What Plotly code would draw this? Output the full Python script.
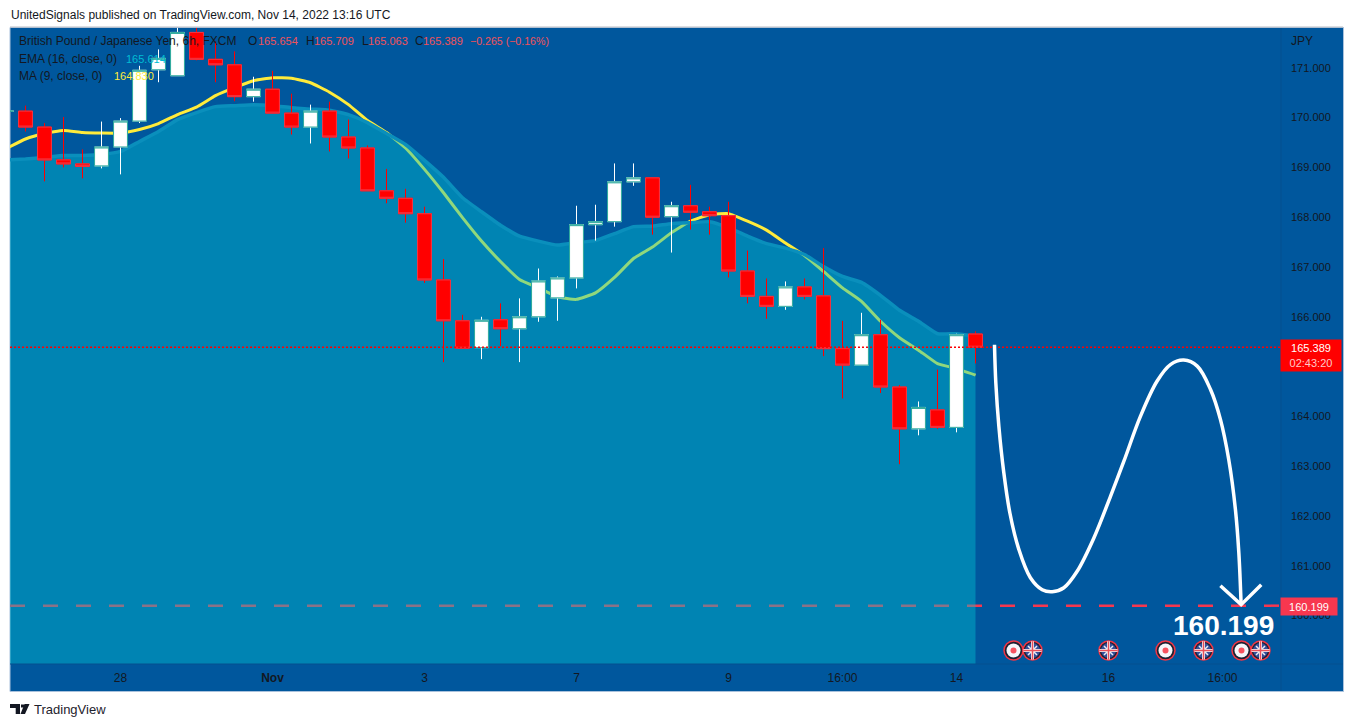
import plotly.graph_objects as go

W, H = 1354, 727

# ---------- data (6h GBP/JPY candles) ----------
candle_idx = list(range(-1, 51))
opens = [170.13,170.13,169.81,169.15,169.07,169.03,169.41,169.93,170.96,170.84,171.71,171.17,171.06,170.42,170.57,170.09,169.81,170.13,169.61,169.39,168.53,168.38,168.07,166.74,165.92,165.38,165.94,165.76,166.00,166.38,166.78,167.85,167.91,168.71,168.79,168.01,168.23,168.11,168.03,166.92,166.41,166.21,166.60,166.42,165.36,165.03,165.64,164.59,163.75,164.13,163.78,165.654]
highs = [170.13,170.24,169.89,170.01,169.36,169.92,169.99,171.04,171.37,172.00,172.00,171.53,171.33,170.82,170.94,170.48,170.26,170.32,169.96,169.44,168.97,168.57,168.21,167.16,166.04,166.00,166.27,166.37,166.97,166.81,168.23,168.25,169.08,169.08,168.79,168.31,168.65,168.21,168.31,167.33,166.77,166.71,166.77,167.38,165.92,166.08,165.94,164.63,164.30,164.94,165.66,165.709]
lows = [170.13,169.72,168.72,169.00,168.78,168.98,168.86,169.89,170.71,170.84,171.15,170.71,170.33,170.32,170.09,169.66,169.48,169.32,169.18,168.53,168.28,167.89,166.68,165.09,165.37,165.15,165.41,165.09,165.90,165.92,166.57,167.53,167.81,168.63,167.65,167.29,167.75,167.65,166.79,166.27,165.96,166.14,166.35,165.21,164.36,165.03,164.47,163.04,163.62,163.75,163.68,165.063]
closes = [170.13,169.81,169.15,169.07,169.02,169.41,169.93,170.95,171.19,171.71,171.17,171.06,170.42,170.57,170.09,169.81,170.13,169.61,169.39,168.53,168.38,168.07,166.74,165.92,165.37,165.93,165.76,166.00,166.72,166.78,167.85,167.91,168.71,168.79,168.00,168.23,168.10,168.03,166.92,166.41,166.21,166.60,166.41,165.36,165.03,165.64,164.59,163.75,164.18,163.78,165.64,165.389]

line_idx = list(range(-1, 51))
ema16 = [169.15,169.17,169.20,169.24,169.24,169.26,169.32,169.52,169.72,169.96,170.10,170.22,170.24,170.26,170.24,170.20,170.17,170.15,170.06,169.90,169.68,169.46,169.14,168.80,168.39,168.11,167.84,167.62,167.52,167.44,167.49,167.53,167.67,167.81,167.82,167.87,167.89,167.91,167.79,167.62,167.47,167.38,167.25,167.01,166.81,166.69,166.43,166.13,165.91,165.66,165.66,165.61]
ma9 = [169.38,169.57,169.68,169.74,169.70,169.69,169.69,169.76,169.88,170.06,170.21,170.44,170.60,170.74,170.80,170.79,170.70,170.51,170.26,169.94,169.70,169.39,168.96,168.49,167.99,167.52,167.11,166.75,166.58,166.40,166.35,166.48,166.79,167.17,167.40,167.69,167.92,168.05,168.07,167.92,167.74,167.48,167.23,166.91,166.58,166.31,165.91,165.58,165.33,165.06,164.96,164.83]

last_price = 165.389
target_price = 160.199

curve_idx = [51.0,51.07,51.23,51.49,51.81,52.28,52.89,53.51,54.04,54.65,55.35,56.23,57.11,57.81,58.68,59.56,60.26,60.96,61.67,62.37,62.89,63.33,63.68,63.86,63.98]
curve_price = [165.44,164.67,163.80,162.87,162.06,161.33,160.76,160.52,160.48,160.56,160.89,161.56,162.40,163.10,164.00,164.71,165.04,165.13,165.01,164.54,163.94,163.13,162.13,161.26,160.22]
arrow_idx = [62.89,63.98,65.04]
arrow_price = [160.60,160.22,160.62]

jp_events = [52, 60, 64]
uk_events = [53, 57, 62, 65]
event_price = 159.3

x_tickvals = [5, 13, 21, 29, 37, 43, 49, 57, 63]
x_ticktext = ["28", "<b>Nov</b>", "3", "7", "9", "16:00", "14", "16", "16:00"]
y_tickvals = [160,161,162,163,164,166,167,168,169,170,171]
y_ticktext = ["160.000","161.000","162.000","163.000","164.000","166.000","167.000","168.000","169.000","170.000","171.000"]

# ---------- style ----------
BG = "#00579d"
AREA = "rgba(0,190,210,0.435)"
DARK = "#131722"
RED = "#ff0000"
BORDER_RED = "#f23645"
TEAL = "#26a69a"
FONT = "Liberation Sans"
X_RANGE = [-0.8158, 66.079]
Y_RANGE = [159.028, 171.799]

def px(v): return v / W
def py(v): return 1 - v / H

fig = go.Figure()

# Main layer: sits beneath the candles
fig.add_trace(go.Scatter(x=[X_RANGE[0], X_RANGE[1]], y=[target_price]*2, mode="lines",
                         line=dict(color="#f7374f", width=2.5, dash="15px,18px")))
fig.add_trace(go.Scatter(x=line_idx, y=ma9, mode="lines",
                         line=dict(color="#ffeb3b", width=3, shape="spline", smoothing=0.4)))
fig.add_trace(go.Scatter(x=line_idx, y=ema16, mode="lines", fill="tozeroy", fillcolor=AREA,
                         line=dict(color="#0a8fbc", width=3.5, shape="spline", smoothing=0.4)))

# Overlay layer: candles and drawings
fig.add_trace(go.Candlestick(x=candle_idx, open=opens, high=highs, low=lows, close=closes,
                             xaxis="x2", yaxis="y2", whiskerwidth=0,
                             increasing=dict(line=dict(color="#ffffff", width=1), fillcolor="#ffffff"),
                             decreasing=dict(line=dict(color=RED, width=1), fillcolor=RED)))
body_high = [max(o, c) for o, c in zip(opens, closes)]
body_low = [min(o, c) for o, c in zip(opens, closes)]
fig.add_trace(go.Candlestick(x=candle_idx, open=opens, high=body_high, low=body_low, close=closes,
                             xaxis="x2", yaxis="y2", whiskerwidth=0,
                             increasing=dict(line=dict(color=TEAL, width=1), fillcolor="#ffffff"),
                             decreasing=dict(line=dict(color=BORDER_RED, width=1), fillcolor=RED)))

fig.add_trace(go.Scatter(x=X_RANGE, y=[last_price]*2, mode="lines", xaxis="x2", yaxis="y2",
                         line=dict(color=RED, width=1.5, dash="2px,2px")))
fig.add_trace(go.Scatter(x=curve_idx, y=curve_price, mode="lines", xaxis="x2", yaxis="y2",
                         line=dict(color="#ffffff", width=3.5, shape="spline", smoothing=1.0)))
fig.add_trace(go.Scatter(x=arrow_idx, y=arrow_price, mode="lines", xaxis="x2", yaxis="y2",
                         line=dict(color="#ffffff", width=3.5)))

def event_marks(xs, symbol, size, color, line_color=None, line_width=0):
    fig.add_trace(go.Scatter(x=xs, y=[event_price]*len(xs), mode="markers", xaxis="x2", yaxis="y2",
                             marker=dict(symbol=symbol, size=size, color=color,
                                         line=dict(color=line_color or color, width=line_width))))

event_marks(jp_events, "circle", 19, "#1c2030", BORDER_RED, 1.5)
event_marks(jp_events, "circle", 14, "#f5f6fa")
event_marks(jp_events, "circle", 6, "#f7525f")
event_marks(uk_events, "circle", 19, "#1c2030", BORDER_RED, 1.5)
event_marks(uk_events, "circle", 15, "#34509c")
event_marks(uk_events, "x-thin", 9, "#e9eaf2", "#e9eaf2", 1.5)
event_marks(uk_events, "cross-thin", 13, "#f2f2f5", "#f2f2f5", 3)
event_marks(uk_events, "cross-thin", 13, "#e8505b", "#e8505b", 1.5)

# ---------- texts ----------
ann = []
def text(x, y, t, size=12, color=DARK, anchor="left", **kw):
    ann.append(dict(x=px(x), y=py(y), xref="paper", yref="paper", text=t, showarrow=False,
                    xanchor=anchor, yanchor="middle", align="left",
                    font=dict(family=FONT, size=size, color=color), borderpad=0, **kw))

LR = "#f0525a"

text(10, 15, "UnitedSignals published on TradingView.com, Nov 14, 2022 13:16 UTC", size=12, color="#131722")
text(18, 41, "British Pound / Japanese Yen, 6h, FXCM", size=12)
for letter, lx, value, vx in [("O", 247, "165.654", 257), ("H", 305, "165.709", 313),
                              ("L", 361, "165.063", 367), ("C", 414, "165.389", 422)]:
    text(lx, 41, letter, size=12)
    text(vx, 41, value, size=11, color=LR)
text(469, 41, "−0.265 (−0.16%)", size=10.6, color=LR)
text(18, 59, "EMA (16, close, 0)", size=12)
text(125, 59, "165.614", size=11, color="#00bcd4")
text(18, 76, "MA (9, close, 0)", size=12)
text(113, 76, "164.830", size=11, color="#ffeb3b")
text(1290, 41, "JPY", size=12)
text(32.5, 709, "TradingView", size=13, color="#1e222d")
text(1223, 625, "<b>160.199</b>", size=28, color="#ffffff", anchor="center")

ann.append(dict(x=px(1280), y=py(606.5), xref="paper", yref="paper", showarrow=False,
                xanchor="left", yanchor="middle", text="160.199", width=54, height=15,
                bgcolor="#f7374f", font=dict(family=FONT, size=11, color="#ffffff")))
ann.append(dict(x=px(1280), y=py(355.5), xref="paper", yref="paper", showarrow=False,
                xanchor="left", yanchor="middle",
                text='165.389<br><span style="color:#ffc9c9">02:43:20</span>', width=58, height=29,
                bgcolor=RED, font=dict(family=FONT, size=11, color="#ffffff")))

# ---------- chrome ----------
shapes = [
    dict(type="rect", xref="paper", yref="paper", layer="below",
         x0=px(10), x1=px(1343.5), y0=py(691.5), y1=py(27.5),
         fillcolor=BG, line=dict(color="#a9c1dc", width=1)),
    dict(type="line", xref="paper", yref="paper", layer="above",
         x0=px(1281), x1=px(1281), y0=py(691), y1=py(28), line=dict(color="#04508f", width=1)),
    dict(type="line", xref="paper", yref="paper", layer="above",
         x0=px(10), x1=px(1343), y0=py(664), y1=py(664), line=dict(color="#04508f", width=1)),
    dict(type="line", xref="paper", yref="paper", layer="below",
         x0=px(10), x1=px(1343), y0=py(27), y1=py(27), line=dict(color="#b8bcc4", width=1)),
]
def poly(points):
    return "M " + " L ".join(f"{px(a):.5f} {py(b):.5f}" for a, b in points) + " Z"
logo = [
    [(10, 704), (20, 704), (20, 714), (15.7, 714), (15.7, 708), (10, 708)],
    [(24.5, 704), (29.5, 704), (25, 714), (20.5, 714)],
    [(21, 704.5), (24, 704.5), (24, 707.5), (21, 707.5)],
]
for p in logo:
    shapes.append(dict(type="path", xref="paper", yref="paper", path=poly(p),
                       fillcolor="#131722", line=dict(width=0), layer="above"))

axis_font = dict(family=FONT, size=11, color=DARK)
x_font = dict(family=FONT, size=12, color=DARK)
fig.update_layout(
    width=W, height=H, margin=dict(l=0, r=0, t=0, b=0), autosize=False,
    paper_bgcolor="#ffffff", plot_bgcolor="rgba(0,0,0,0)", showlegend=False,
    boxgap=0.27, boxgroupgap=0,
    hovermode=False, annotations=ann, shapes=shapes,
    xaxis=dict(domain=[px(10), px(1281)], range=X_RANGE, tickmode="array", tickvals=x_tickvals,
               ticktext=x_ticktext, showgrid=False, zeroline=False, ticks="", tickfont=x_font,
               ticklabelstandoff=5, rangeslider=dict(visible=False), showline=False, anchor="y"),
    yaxis=dict(domain=[py(664), py(28)], range=Y_RANGE, side="right", tickmode="array",
               tickvals=y_tickvals, ticktext=y_ticktext, showgrid=False, zeroline=False, ticks="",
               tickfont=axis_font, ticklabelstandoff=9, showline=False, anchor="x"),
    xaxis2=dict(overlaying="x", range=X_RANGE, visible=False, rangeslider=dict(visible=False), anchor="y2"),
    yaxis2=dict(overlaying="y", range=Y_RANGE, visible=False, anchor="x2"),
)

fig.write_html("out.html", config=dict(displayModeBar=False),
               post_script="document.body.style.margin='0';document.body.style.overflow='hidden';")
